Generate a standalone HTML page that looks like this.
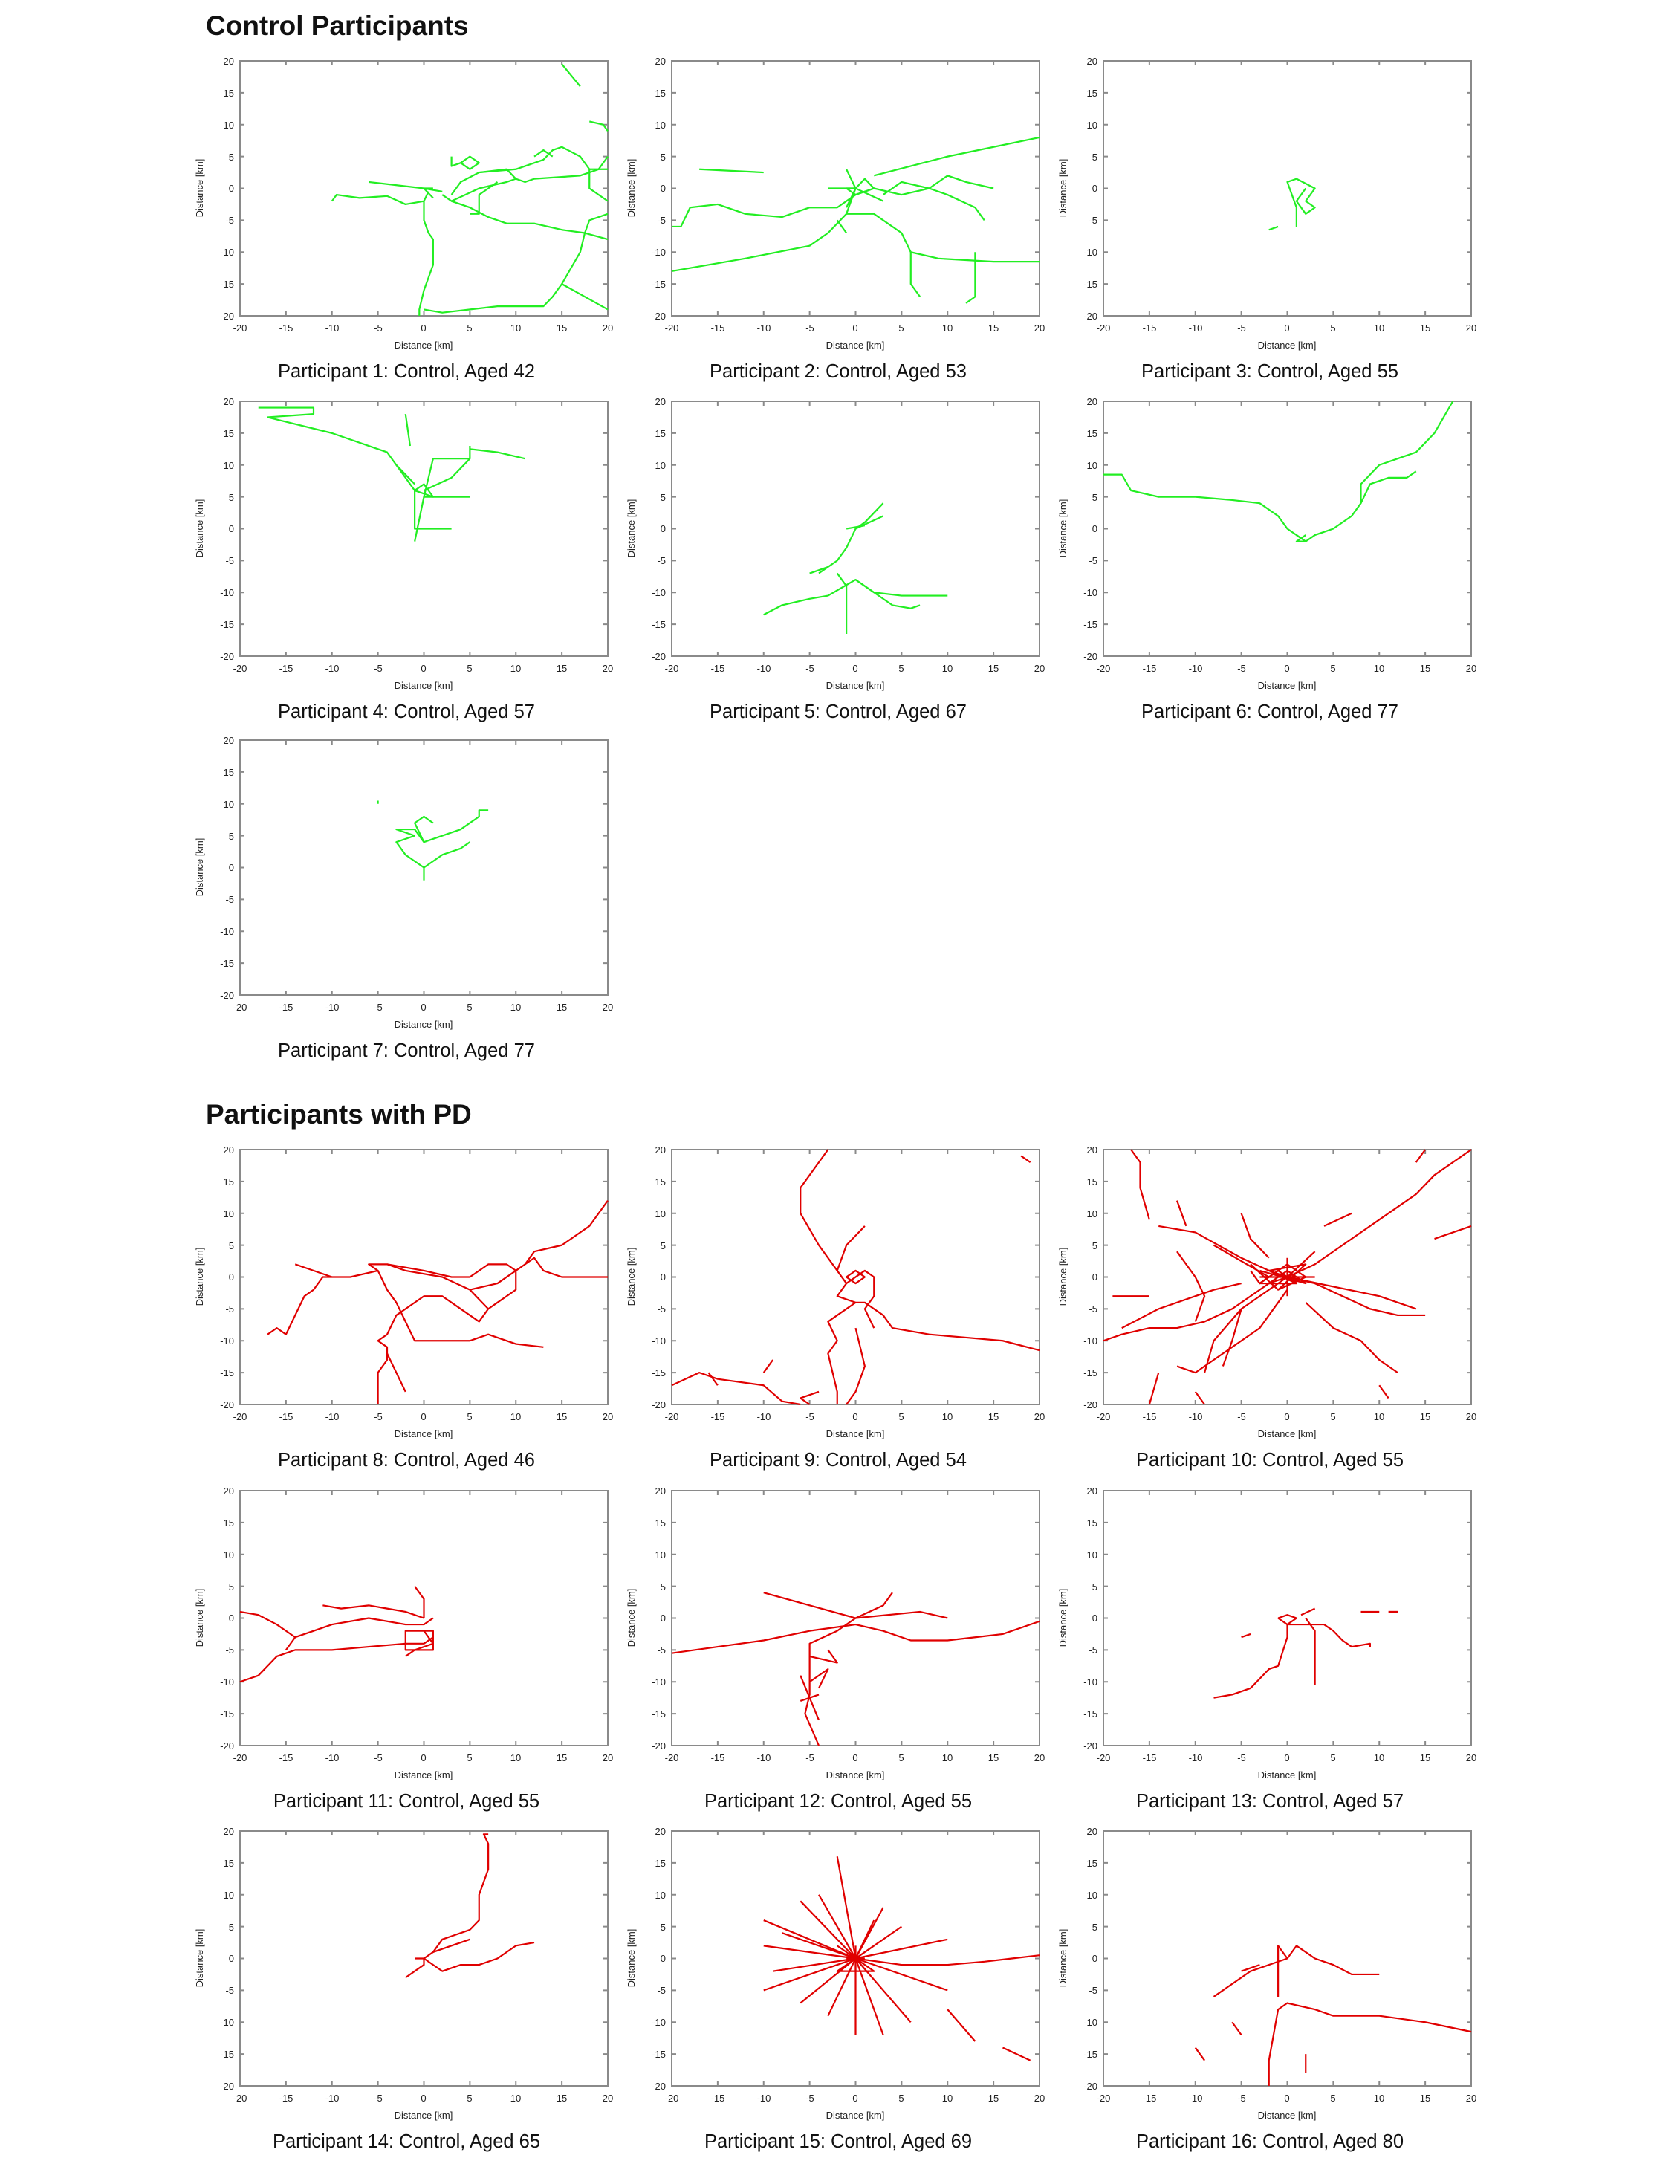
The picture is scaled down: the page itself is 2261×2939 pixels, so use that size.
<!DOCTYPE html>
<html><head><meta charset="utf-8">
<style>
html,body{margin:0;padding:0;background:#fff;}
svg{display:block;}
text{font-family:"Liberation Sans",Arial,sans-serif;}
.t{font-size:13px;fill:#222;}
.xl{font-size:13px;fill:#222;text-anchor:middle;}
.ty{text-anchor:end;}
.tx{text-anchor:middle;}
.cap{font-size:25.5px;fill:#111;text-anchor:middle;}
.h{font-size:37px;font-weight:bold;fill:#111;}
</style></head>
<body>
<svg id="s" width="2261" height="2939" viewBox="0 0 2261 2939" xmlns="http://www.w3.org/2000/svg">
<rect width="2261" height="2939" fill="#fff"/>
<text class="h" x="277" y="47">Control Participants</text>
<text class="h" x="277" y="1512">Participants with PD</text>
<g id="panels"></g>
<g id="labels">
<g transform="translate(323,82)"><g class="t"><text class="ty" x="-8" y="5">20</text><text class="ty" x="-8" y="48">15</text><text class="ty" x="-8" y="91">10</text><text class="ty" x="-8" y="134">5</text><text class="ty" x="-8" y="176">0</text><text class="ty" x="-8" y="219">-5</text><text class="ty" x="-8" y="262">-10</text><text class="ty" x="-8" y="305">-15</text><text class="ty" x="-8" y="348">-20</text><text class="tx" x="0" y="364">-20</text><text class="tx" x="62" y="364">-15</text><text class="tx" x="124" y="364">-10</text><text class="tx" x="186" y="364">-5</text><text class="tx" x="247" y="364">0</text><text class="tx" x="309" y="364">5</text><text class="tx" x="371" y="364">10</text><text class="tx" x="433" y="364">15</text><text class="tx" x="495" y="364">20</text></g><text class="xl" x="247" y="387">Distance [km]</text><text class="xl" transform="translate(-50,171) rotate(-90)">Distance [km]</text><text class="cap" x="224" y="426">Participant 1: Control, Aged 42</text></g>

<g transform="translate(904,82)"><g class="t"><text class="ty" x="-8" y="5">20</text><text class="ty" x="-8" y="48">15</text><text class="ty" x="-8" y="91">10</text><text class="ty" x="-8" y="134">5</text><text class="ty" x="-8" y="176">0</text><text class="ty" x="-8" y="219">-5</text><text class="ty" x="-8" y="262">-10</text><text class="ty" x="-8" y="305">-15</text><text class="ty" x="-8" y="348">-20</text><text class="tx" x="0" y="364">-20</text><text class="tx" x="62" y="364">-15</text><text class="tx" x="124" y="364">-10</text><text class="tx" x="186" y="364">-5</text><text class="tx" x="247" y="364">0</text><text class="tx" x="309" y="364">5</text><text class="tx" x="371" y="364">10</text><text class="tx" x="433" y="364">15</text><text class="tx" x="495" y="364">20</text></g><text class="xl" x="247" y="387">Distance [km]</text><text class="xl" transform="translate(-50,171) rotate(-90)">Distance [km]</text><text class="cap" x="224" y="426">Participant 2: Control, Aged 53</text></g>

<g transform="translate(1485,82)"><g class="t"><text class="ty" x="-8" y="5">20</text><text class="ty" x="-8" y="48">15</text><text class="ty" x="-8" y="91">10</text><text class="ty" x="-8" y="134">5</text><text class="ty" x="-8" y="176">0</text><text class="ty" x="-8" y="219">-5</text><text class="ty" x="-8" y="262">-10</text><text class="ty" x="-8" y="305">-15</text><text class="ty" x="-8" y="348">-20</text><text class="tx" x="0" y="364">-20</text><text class="tx" x="62" y="364">-15</text><text class="tx" x="124" y="364">-10</text><text class="tx" x="186" y="364">-5</text><text class="tx" x="247" y="364">0</text><text class="tx" x="309" y="364">5</text><text class="tx" x="371" y="364">10</text><text class="tx" x="433" y="364">15</text><text class="tx" x="495" y="364">20</text></g><text class="xl" x="247" y="387">Distance [km]</text><text class="xl" transform="translate(-50,171) rotate(-90)">Distance [km]</text><text class="cap" x="224" y="426">Participant 3: Control, Aged 55</text></g>

<g transform="translate(323,540)"><g class="t"><text class="ty" x="-8" y="5">20</text><text class="ty" x="-8" y="48">15</text><text class="ty" x="-8" y="91">10</text><text class="ty" x="-8" y="134">5</text><text class="ty" x="-8" y="176">0</text><text class="ty" x="-8" y="219">-5</text><text class="ty" x="-8" y="262">-10</text><text class="ty" x="-8" y="305">-15</text><text class="ty" x="-8" y="348">-20</text><text class="tx" x="0" y="364">-20</text><text class="tx" x="62" y="364">-15</text><text class="tx" x="124" y="364">-10</text><text class="tx" x="186" y="364">-5</text><text class="tx" x="247" y="364">0</text><text class="tx" x="309" y="364">5</text><text class="tx" x="371" y="364">10</text><text class="tx" x="433" y="364">15</text><text class="tx" x="495" y="364">20</text></g><text class="xl" x="247" y="387">Distance [km]</text><text class="xl" transform="translate(-50,171) rotate(-90)">Distance [km]</text><text class="cap" x="224" y="426">Participant 4: Control, Aged 57</text></g>

<g transform="translate(904,540)"><g class="t"><text class="ty" x="-8" y="5">20</text><text class="ty" x="-8" y="48">15</text><text class="ty" x="-8" y="91">10</text><text class="ty" x="-8" y="134">5</text><text class="ty" x="-8" y="176">0</text><text class="ty" x="-8" y="219">-5</text><text class="ty" x="-8" y="262">-10</text><text class="ty" x="-8" y="305">-15</text><text class="ty" x="-8" y="348">-20</text><text class="tx" x="0" y="364">-20</text><text class="tx" x="62" y="364">-15</text><text class="tx" x="124" y="364">-10</text><text class="tx" x="186" y="364">-5</text><text class="tx" x="247" y="364">0</text><text class="tx" x="309" y="364">5</text><text class="tx" x="371" y="364">10</text><text class="tx" x="433" y="364">15</text><text class="tx" x="495" y="364">20</text></g><text class="xl" x="247" y="387">Distance [km]</text><text class="xl" transform="translate(-50,171) rotate(-90)">Distance [km]</text><text class="cap" x="224" y="426">Participant 5: Control, Aged 67</text></g>

<g transform="translate(1485,540)"><g class="t"><text class="ty" x="-8" y="5">20</text><text class="ty" x="-8" y="48">15</text><text class="ty" x="-8" y="91">10</text><text class="ty" x="-8" y="134">5</text><text class="ty" x="-8" y="176">0</text><text class="ty" x="-8" y="219">-5</text><text class="ty" x="-8" y="262">-10</text><text class="ty" x="-8" y="305">-15</text><text class="ty" x="-8" y="348">-20</text><text class="tx" x="0" y="364">-20</text><text class="tx" x="62" y="364">-15</text><text class="tx" x="124" y="364">-10</text><text class="tx" x="186" y="364">-5</text><text class="tx" x="247" y="364">0</text><text class="tx" x="309" y="364">5</text><text class="tx" x="371" y="364">10</text><text class="tx" x="433" y="364">15</text><text class="tx" x="495" y="364">20</text></g><text class="xl" x="247" y="387">Distance [km]</text><text class="xl" transform="translate(-50,171) rotate(-90)">Distance [km]</text><text class="cap" x="224" y="426">Participant 6: Control, Aged 77</text></g>

<g transform="translate(323,996)"><g class="t"><text class="ty" x="-8" y="5">20</text><text class="ty" x="-8" y="48">15</text><text class="ty" x="-8" y="91">10</text><text class="ty" x="-8" y="134">5</text><text class="ty" x="-8" y="176">0</text><text class="ty" x="-8" y="219">-5</text><text class="ty" x="-8" y="262">-10</text><text class="ty" x="-8" y="305">-15</text><text class="ty" x="-8" y="348">-20</text><text class="tx" x="0" y="364">-20</text><text class="tx" x="62" y="364">-15</text><text class="tx" x="124" y="364">-10</text><text class="tx" x="186" y="364">-5</text><text class="tx" x="247" y="364">0</text><text class="tx" x="309" y="364">5</text><text class="tx" x="371" y="364">10</text><text class="tx" x="433" y="364">15</text><text class="tx" x="495" y="364">20</text></g><text class="xl" x="247" y="387">Distance [km]</text><text class="xl" transform="translate(-50,171) rotate(-90)">Distance [km]</text><text class="cap" x="224" y="426">Participant 7: Control, Aged 77</text></g>

<g transform="translate(323,1547)"><g class="t"><text class="ty" x="-8" y="5">20</text><text class="ty" x="-8" y="48">15</text><text class="ty" x="-8" y="91">10</text><text class="ty" x="-8" y="134">5</text><text class="ty" x="-8" y="176">0</text><text class="ty" x="-8" y="219">-5</text><text class="ty" x="-8" y="262">-10</text><text class="ty" x="-8" y="305">-15</text><text class="ty" x="-8" y="348">-20</text><text class="tx" x="0" y="364">-20</text><text class="tx" x="62" y="364">-15</text><text class="tx" x="124" y="364">-10</text><text class="tx" x="186" y="364">-5</text><text class="tx" x="247" y="364">0</text><text class="tx" x="309" y="364">5</text><text class="tx" x="371" y="364">10</text><text class="tx" x="433" y="364">15</text><text class="tx" x="495" y="364">20</text></g><text class="xl" x="247" y="387">Distance [km]</text><text class="xl" transform="translate(-50,171) rotate(-90)">Distance [km]</text><text class="cap" x="224" y="426">Participant 8: Control, Aged 46</text></g>

<g transform="translate(904,1547)"><g class="t"><text class="ty" x="-8" y="5">20</text><text class="ty" x="-8" y="48">15</text><text class="ty" x="-8" y="91">10</text><text class="ty" x="-8" y="134">5</text><text class="ty" x="-8" y="176">0</text><text class="ty" x="-8" y="219">-5</text><text class="ty" x="-8" y="262">-10</text><text class="ty" x="-8" y="305">-15</text><text class="ty" x="-8" y="348">-20</text><text class="tx" x="0" y="364">-20</text><text class="tx" x="62" y="364">-15</text><text class="tx" x="124" y="364">-10</text><text class="tx" x="186" y="364">-5</text><text class="tx" x="247" y="364">0</text><text class="tx" x="309" y="364">5</text><text class="tx" x="371" y="364">10</text><text class="tx" x="433" y="364">15</text><text class="tx" x="495" y="364">20</text></g><text class="xl" x="247" y="387">Distance [km]</text><text class="xl" transform="translate(-50,171) rotate(-90)">Distance [km]</text><text class="cap" x="224" y="426">Participant 9: Control, Aged 54</text></g>

<g transform="translate(1485,1547)"><g class="t"><text class="ty" x="-8" y="5">20</text><text class="ty" x="-8" y="48">15</text><text class="ty" x="-8" y="91">10</text><text class="ty" x="-8" y="134">5</text><text class="ty" x="-8" y="176">0</text><text class="ty" x="-8" y="219">-5</text><text class="ty" x="-8" y="262">-10</text><text class="ty" x="-8" y="305">-15</text><text class="ty" x="-8" y="348">-20</text><text class="tx" x="0" y="364">-20</text><text class="tx" x="62" y="364">-15</text><text class="tx" x="124" y="364">-10</text><text class="tx" x="186" y="364">-5</text><text class="tx" x="247" y="364">0</text><text class="tx" x="309" y="364">5</text><text class="tx" x="371" y="364">10</text><text class="tx" x="433" y="364">15</text><text class="tx" x="495" y="364">20</text></g><text class="xl" x="247" y="387">Distance [km]</text><text class="xl" transform="translate(-50,171) rotate(-90)">Distance [km]</text><text class="cap" x="224" y="426">Participant 10: Control, Aged 55</text></g>

<g transform="translate(323,2006)"><g class="t"><text class="ty" x="-8" y="5">20</text><text class="ty" x="-8" y="48">15</text><text class="ty" x="-8" y="91">10</text><text class="ty" x="-8" y="134">5</text><text class="ty" x="-8" y="176">0</text><text class="ty" x="-8" y="219">-5</text><text class="ty" x="-8" y="262">-10</text><text class="ty" x="-8" y="305">-15</text><text class="ty" x="-8" y="348">-20</text><text class="tx" x="0" y="364">-20</text><text class="tx" x="62" y="364">-15</text><text class="tx" x="124" y="364">-10</text><text class="tx" x="186" y="364">-5</text><text class="tx" x="247" y="364">0</text><text class="tx" x="309" y="364">5</text><text class="tx" x="371" y="364">10</text><text class="tx" x="433" y="364">15</text><text class="tx" x="495" y="364">20</text></g><text class="xl" x="247" y="387">Distance [km]</text><text class="xl" transform="translate(-50,171) rotate(-90)">Distance [km]</text><text class="cap" x="224" y="426">Participant 11: Control, Aged 55</text></g>

<g transform="translate(904,2006)"><g class="t"><text class="ty" x="-8" y="5">20</text><text class="ty" x="-8" y="48">15</text><text class="ty" x="-8" y="91">10</text><text class="ty" x="-8" y="134">5</text><text class="ty" x="-8" y="176">0</text><text class="ty" x="-8" y="219">-5</text><text class="ty" x="-8" y="262">-10</text><text class="ty" x="-8" y="305">-15</text><text class="ty" x="-8" y="348">-20</text><text class="tx" x="0" y="364">-20</text><text class="tx" x="62" y="364">-15</text><text class="tx" x="124" y="364">-10</text><text class="tx" x="186" y="364">-5</text><text class="tx" x="247" y="364">0</text><text class="tx" x="309" y="364">5</text><text class="tx" x="371" y="364">10</text><text class="tx" x="433" y="364">15</text><text class="tx" x="495" y="364">20</text></g><text class="xl" x="247" y="387">Distance [km]</text><text class="xl" transform="translate(-50,171) rotate(-90)">Distance [km]</text><text class="cap" x="224" y="426">Participant 12: Control, Aged 55</text></g>

<g transform="translate(1485,2006)"><g class="t"><text class="ty" x="-8" y="5">20</text><text class="ty" x="-8" y="48">15</text><text class="ty" x="-8" y="91">10</text><text class="ty" x="-8" y="134">5</text><text class="ty" x="-8" y="176">0</text><text class="ty" x="-8" y="219">-5</text><text class="ty" x="-8" y="262">-10</text><text class="ty" x="-8" y="305">-15</text><text class="ty" x="-8" y="348">-20</text><text class="tx" x="0" y="364">-20</text><text class="tx" x="62" y="364">-15</text><text class="tx" x="124" y="364">-10</text><text class="tx" x="186" y="364">-5</text><text class="tx" x="247" y="364">0</text><text class="tx" x="309" y="364">5</text><text class="tx" x="371" y="364">10</text><text class="tx" x="433" y="364">15</text><text class="tx" x="495" y="364">20</text></g><text class="xl" x="247" y="387">Distance [km]</text><text class="xl" transform="translate(-50,171) rotate(-90)">Distance [km]</text><text class="cap" x="224" y="426">Participant 13: Control, Aged 57</text></g>

<g transform="translate(323,2464)"><g class="t"><text class="ty" x="-8" y="5">20</text><text class="ty" x="-8" y="48">15</text><text class="ty" x="-8" y="91">10</text><text class="ty" x="-8" y="134">5</text><text class="ty" x="-8" y="176">0</text><text class="ty" x="-8" y="219">-5</text><text class="ty" x="-8" y="262">-10</text><text class="ty" x="-8" y="305">-15</text><text class="ty" x="-8" y="348">-20</text><text class="tx" x="0" y="364">-20</text><text class="tx" x="62" y="364">-15</text><text class="tx" x="124" y="364">-10</text><text class="tx" x="186" y="364">-5</text><text class="tx" x="247" y="364">0</text><text class="tx" x="309" y="364">5</text><text class="tx" x="371" y="364">10</text><text class="tx" x="433" y="364">15</text><text class="tx" x="495" y="364">20</text></g><text class="xl" x="247" y="387">Distance [km]</text><text class="xl" transform="translate(-50,171) rotate(-90)">Distance [km]</text><text class="cap" x="224" y="426">Participant 14: Control, Aged 65</text></g>

<g transform="translate(904,2464)"><g class="t"><text class="ty" x="-8" y="5">20</text><text class="ty" x="-8" y="48">15</text><text class="ty" x="-8" y="91">10</text><text class="ty" x="-8" y="134">5</text><text class="ty" x="-8" y="176">0</text><text class="ty" x="-8" y="219">-5</text><text class="ty" x="-8" y="262">-10</text><text class="ty" x="-8" y="305">-15</text><text class="ty" x="-8" y="348">-20</text><text class="tx" x="0" y="364">-20</text><text class="tx" x="62" y="364">-15</text><text class="tx" x="124" y="364">-10</text><text class="tx" x="186" y="364">-5</text><text class="tx" x="247" y="364">0</text><text class="tx" x="309" y="364">5</text><text class="tx" x="371" y="364">10</text><text class="tx" x="433" y="364">15</text><text class="tx" x="495" y="364">20</text></g><text class="xl" x="247" y="387">Distance [km]</text><text class="xl" transform="translate(-50,171) rotate(-90)">Distance [km]</text><text class="cap" x="224" y="426">Participant 15: Control, Aged 69</text></g>

<g transform="translate(1485,2464)"><g class="t"><text class="ty" x="-8" y="5">20</text><text class="ty" x="-8" y="48">15</text><text class="ty" x="-8" y="91">10</text><text class="ty" x="-8" y="134">5</text><text class="ty" x="-8" y="176">0</text><text class="ty" x="-8" y="219">-5</text><text class="ty" x="-8" y="262">-10</text><text class="ty" x="-8" y="305">-15</text><text class="ty" x="-8" y="348">-20</text><text class="tx" x="0" y="364">-20</text><text class="tx" x="62" y="364">-15</text><text class="tx" x="124" y="364">-10</text><text class="tx" x="186" y="364">-5</text><text class="tx" x="247" y="364">0</text><text class="tx" x="309" y="364">5</text><text class="tx" x="371" y="364">10</text><text class="tx" x="433" y="364">15</text><text class="tx" x="495" y="364">20</text></g><text class="xl" x="247" y="387">Distance [km]</text><text class="xl" transform="translate(-50,171) rotate(-90)">Distance [km]</text><text class="cap" x="224" y="426">Participant 16: Control, Aged 80</text></g>
</g>
</svg>
<script>
(function(){
var NS="http://www.w3.org/2000/svg",root=document.getElementById("panels");
var G="#22ee22",R="#e00000";
var P=[
[323,82,G,[
"-10,-2 -9.5,-1 -7,-1.5 -4,-1.2 -2,-2.5 0,-2 0.5,-0.5",
"-6,1 0,0 1,0","0,0 1,-1.5","0,0 2,-0.5",
"0,-2 0,-5 0.5,-7 1,-8 1,-12 0,-16 -0.5,-19 -0.5,-20",
"0,-19 2,-19.5 8,-18.5 12,-18.5 13,-18.5 14,-17 15,-15 17,-10 17.5,-7 18,-5 20,-4",
"15,-15 20,-19",
"2,-1 3,-2 5,-3 7,-4.5 9,-5.5 12,-5.5 15,-6.5 17.5,-7 20,-8",
"3,-1 4,1 6,2.5 10,3 13,4.5 14,6 15,6.5 17,5 18,3 20,3",
"3,-2 6,0 9,1 10,1.5 11,1 12,1.5 17,2 19,3 20,5",
"10,1.5 9,3 6,2.5","4,4 5,5 6,4 5,3 4,4 3,3.5 3,5",
"18,10.5 19.5,10 20,9","17,16 15,19.5",
"20,-2 18,0 18,3","5,-4 6,-4 6,-1 7,0 8,1","12,5 13,6 14,5"]],
[904,82,G,[
"-20,-6 -19,-6 -18,-3 -15,-2.5 -12,-4 -8,-4.5 -5,-3 -2,-3 0,-1 2,0 5,-1 8,0 10,2 12,1 15,0",
"-20,-13 -12,-11 -5,-9 -3,-7 -1,-4 0,0","2,2 10,5 20,8",
"-1,-4 2,-4 5,-7 6,-10 9,-11 15,-11.5 20,-11.5","6,-10 6,-15 7,-17",
"13,-10 13,-17 12,-18","-17,3 -10,2.5","3,-1 5,1 8,0 10,-1 13,-3 14,-5",
"0,0 -1,3","0,0 1,1.5 2,0 0,-1 -1,0 0,0","-2,-5 -1,-7","0,0 -3,0","0,0 3,-2","0,0 -1,-3"]],
[1485,82,G,[
"-2,-6.5 -1,-6","1,-6 1,-3 0,1 1,1.5 3,0 2,-2 3,-3 2,-4 1,-2 2,0"]],
[323,540,G,[
"-18,19 -12,19 -12,18 -17,17.5 -10,15 -4,12 -2,8 -1,6 -1,0 0,0 3,0",
"-1,-2 0,5 5,5","0,5 1,11 5,11 5,13","0,6 3,8 5,11","-1,6 1,5 0,7 -1,6",
"-2,18 -1.5,13","5,12.5 8,12 11,11","-3,10 -1,7"]],
[904,540,G,[
"-10,-13.5 -8,-12 -5,-11 -3,-10.5 0,-8 2,-10 5,-10.5 10,-10.5",
"0,-8 4,-12 6,-12.5 7,-12","-2,-7 -1,-9 -1,-13 -1,-16.5",
"-4,-7 -2,-5 -1,-3 0,0 1,1 3,4","-1,0 1,0.5","0,0 3,2","-5,-7 -3,-6"]],
[1485,540,G,[
"-20,8.5 -18,8.5 -17,6 -14,5 -10,5 -6,4.5 -3,4 -1,2 0,0 2,-2 3,-1 5,0 7,2 8,4 8,7 10,10 12,11 14,12 16,15 18,20",
"8,4 9,7 11,8 13,8 14,9","1,-1 2,-2 1,-2 2,-1"]],
[323,996,G,[
"-1,5 -3,6 -1,6 0,4 4,6 6,8 6,9 7,9","0,0 0,-2","0,0 -2,2 -3,4 -1,5",
"0,0 2,2 4,3 5,4","0,4 -1,7 0,8 1,7","-5,10.5 -5,10"]],
[323,1547,R,[
"-17,-9 -16,-8 -15,-9 -14,-6 -13,-3 -12,-2 -11,0 -10,0 -8,0 -5,1 -6,2 -4,2 0,1 3,0 5,0 7,2 9,2 10,1 10,-2 8,-4 7,-5 6,-7 5,-6 3,-4 2,-3 0,-3 -2,-5 -3,-6 -4,-9 -5,-10 -4,-11 -4,-13 -5,-15 -5,-20",
"-4,-12 -3,-15 -2,-18","-5,1 -4,-2 -3,-4 -2,-7 -1,-10 1,-10 5,-10 7,-9 10,-10.5 13,-11",
"-4,2 -2,1 2,0 5,-2 7,-5","5,-2 8,-1 10,1 11,2 12,3 13,1 15,0 20,0",
"11,2 12,4 15,5 18,8 20,12","-10,0 -13,1.5 -14,2"]],
[904,1547,R,[
"-3,20 -4,18 -6,14 -6,10 -4,5 -2,1 -1,-1 -2,-3 0,-4 1,-4 3,-6 4,-8 8,-9 12,-9.5 16,-10 20,-11.5",
"0,-4 -2,-6 -3,-7 -2,-10 -3,-12 -2,-18 -2,-20","0,-8 1,-14 0,-18 -1,-20",
"-1,-1 1,1 2,0 2,-3 1,-5 2,-8","-6,-20 -8,-19.5 -10,-17 -15,-16 -17,-15 -20,-17",
"-5,-20 -6,-19 -4,-18","-2,1 -1,5 1,8","-10,-15 -9,-13","-16,-15 -15,-17","19,18 18,19","-1,0 0,1 1,0 0,-1 -1,0"]],
[1485,1547,R,[
"-20,-10 -18,-9 -15,-8 -12,-8 -9,-7 -6,-5 -4,-3 -2,-1 0,0",
"-14,8 -10,7 -5,3 -2,1 0,0","-17,20 -16,18 -16,14 -15,9",
"-12,-14 -10,-15 -7,-12 -5,-10 -3,-8 -1,-4 0,-2",
"0,0 3,2 6,5 10,9 14,13 16,16 20,20","0,0 3,-1 6,-3 9,-5 12,-6 15,-6",
"0,0 -5,-5 -8,-10 -9,-15","-18,-8 -14,-5 -10,-3 -8,-2 -5,-1",
"-12,4 -10,0 -9,-3 -10,-7","-5,10 -4,6 -2,3","0,0 10,-3 14,-5",
"-15,-20 -14,-15","-7,-14 -6,-10 -5,-5","20,8 16,6","2,-4 5,-8 8,-10 10,-13 12,-15",
"-4,2 -1,-2 2,2 -2,1 1,-1 -3,-1 0,2 2,0 -1,-2","-3,0 3,0","0,3 0,-3","-8,5 -2,0","3,4 0,0","-12,12 -11,8","4,8 7,10","-10,-18 -9,-20","10,-17 11,-19","15,20 14,18","-19,-3 -15,-3",
"-4,1 -3,-1 -1,1 1,-1 -2,-1 0,1 2,-1 -3,1"]],
[323,2006,R,[
"-20,1 -18,0.5 -16,-1 -14,-3 -12,-2 -10,-1 -6,0 -2,-1 0,-1 1,0",
"-20,-10 -18,-9 -16,-6 -14,-5 -10,-5 -6,-4.5 -2,-4 0,-4 1,-3",
"-11,2 -9,1.5 -6,2 -4,1.5 -2,1 0,0","-15,-5 -14,-3",
"0,-2 1,-4 -1,-5 -2,-6","-1,5 0,3 0,0","0,-2 1,-2 1,-5 -2,-5 -2,-2 0,-2"]],
[904,2006,R,[
"-20,-5.5 -15,-4.5 -10,-3.5 -5,-2 0,-1 3,-2 6,-3.5 10,-3.5 13,-3 16,-2.5 20,-0.5",
"0,0 -2,-2 -5,-4 -5,-8 -5,-12 -5.5,-15 -4,-20","-5,-10 -3,-8 -4,-11",
"-3,-5 -2,-7 -5,-6","-10,4 -5,2 0,0 3,2 4,4","0,0 7,1 10,0","-6,-9 -4,-16","-6,-13 -4,-12"]],
[1485,2006,R,[
"-8,-12.5 -6,-12 -4,-11 -3,-9.5 -2,-8 -1,-7.5 0,-3 0,-1",
"2,0 3,-2 3,-5 3,-9 3,-10.5","0,-1 2,-1 4,-1 5,-2 6,-3.5 7,-4.5 9,-4 9,-4.5",
"-1,0 0,-1 1,0 0,0.5 -1,0","8,1 10,1","11,1 12,1","-5,-3 -4,-2.5","1.5,0.5 3,1.5"]],
[323,2464,R,[
"-1,0 0,0 1,1 2,3 3,3.5 5,4.5 6,6 6,10 7,14 7,18 6.5,19.5 7,19.5",
"0,0 2,-2 4,-1 6,-1 8,0 10,2 12,2.5","1,1 3,2 5,3","0,0 0,-1 -2,-3"]],
[904,2464,R,[
"0,0 -10,6","0,0 -6,9","0,0 -4,10","0,0 -2,16","0,0 2,6","0,0 3,8","0,0 5,5","0,0 10,3",
"0,0 10,-5","0,0 6,-10","0,0 3,-12","0,0 0,-12","0,0 -3,-9","0,0 -6,-7","0,0 -10,-5",
"0,0 -9,-2","0,0 -10,2","0,0 -8,4","0,0 5,-1 10,-1 14,-0.5 17,0 20,0.5","10,-8 13,-13","16,-14 19,-16",
"-2,2 2,-2 -2,-2 2,2","-1,0 1,0","0,-2 0,2"]],
[1485,2464,R,[
"-2,-20 -2,-16 -1.5,-12 -1,-8 0,-7 3,-8 5,-9 8,-9 10,-9 15,-10 20,-11.5",
"0,0 1,2 2,1 3,0 5,-1 7,-2.5 10,-2.5","-8,-6 -4,-2 0,0 -1,2 -1,-6","-3,-1 -5,-2",
"-10,-14 -9,-16","2,-15 2,-18","-6,-10 -5,-12"]]
];
P.forEach(function(p){
 var g=document.createElementNS(NS,"g");g.setAttribute("transform","translate("+p[0]+","+p[1]+")");
 var W=495,H=343,s='<rect x="0" y="0" width="'+W+'" height="'+H+'" fill="none" stroke="#8a8a8a" stroke-width="2"/>';
 for(var i=1;i<8;i++){var x=i*W/8,y=i*H/8;
  s+='<line x1="'+x+'" y1="0" x2="'+x+'" y2="6" stroke="#8a8a8a" stroke-width="2"/><line x1="'+x+'" y1="'+H+'" x2="'+x+'" y2="'+(H-6)+'" stroke="#8a8a8a" stroke-width="2"/>';
  s+='<line x1="0" y1="'+y+'" x2="6" y2="'+y+'" stroke="#8a8a8a" stroke-width="2"/><line x1="'+W+'" y1="'+y+'" x2="'+(W-6)+'" y2="'+y+'" stroke="#8a8a8a" stroke-width="2"/>';}
 s+='<g transform="translate(247.5,171.5) scale(12.375,-8.575)">';
 p[3].forEach(function(pts){s+='<polyline points="'+pts.trim()+'" fill="none" stroke="'+p[2]+'" stroke-width="2.2" stroke-linejoin="round" vector-effect="non-scaling-stroke"/>';});
 s+='</g>';
 g.innerHTML=s;root.appendChild(g);
});
})();
</script>
</body></html>
